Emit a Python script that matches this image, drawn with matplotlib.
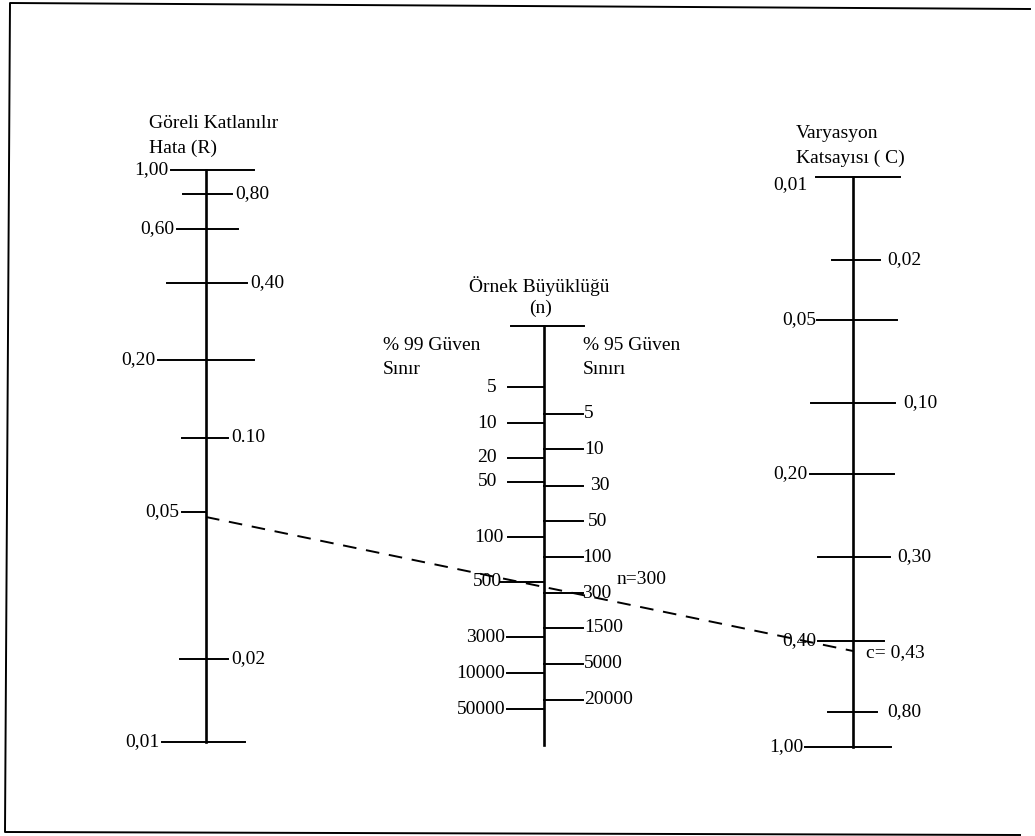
import matplotlib.pyplot as plt

############### Scale R (Göreli Katlanılır Hata)
r_labels = ['1,00', '0,80', '0,60', '0,40', '0,20', '0.10', '0,05', '0,02', '0,01']
r_pos = [170, 194, 229, 283, 360, 438, 512, 659, 742]

############### Scale n (Örnek Büyüklüğü)
n99_labels = ['5', '10', '20', '50', '100', '500', '3000', '10000', '50000']
n99_pos = [387, 423, 458, 482, 537, 582, 637, 673, 709]
n95_labels = ['5', '10', '30', '50', '100', '300', '1500', '5000', '20000']
n95_pos = [414, 449, 486, 521, 557, 593, 628, 664, 700]

############### Scale C (Varyasyon Katsayısı)
c_labels = ['0,01', '0,02', '0,05', '0,10', '0,20', '0,30', '0,40', '0,80', '1,00']
c_pos = [177, 260, 320, 403, 474, 557, 641, 712, 747]

############### Example reading: R=0,05 -> n=300 -> c=0,43
r_sel = 517
c_sel = 651

############### Layout (hand drawn, so tick extents differ)
xr, xn, xc = 206, 544, 853
r_ext = [(171, 254), (183, 232), (177, 238), (167, 247), (158, 254),
         (182, 228), (182, 205), (180, 228), (162, 245)]
c_ext = [(816, 900), (832, 880), (817, 897), (811, 895), (810, 894),
         (818, 890), (818, 884), (828, 877), (805, 891)]
n99_x = [497, 497, 497, 497, 504, 502, 505, 505, 505]
n99_start = [508, 508, 508, 508, 508, 500, 507, 507, 507]
n95_x = [584, 584, 590, 588, 582, 582, 584, 584, 584]
c_lab_x = [807, 887, 816, 903, 808, 897, 816, 887, 803]

plt.rcParams['font.family'] = ['Liberation Serif', 'DejaVu Serif']
fs = 14

fig = plt.figure(figsize=(10.35, 8.36), dpi=100)
ax = fig.add_axes([0, 0, 1, 1])
ax.set_xlim(0, 1035)
ax.set_ylim(836, 0)
ax.axis('off')

############### Frame
ax.plot([1030, 10, 5, 1020], [9, 3, 832, 835], color='black', lw=1.4)

############### R axis
ax.plot([xr, xr], [r_pos[0], r_pos[-1]], color='black', lw=1.9)
for i, (lab, y) in enumerate(zip(r_labels, r_pos)):
    x0, x1 = r_ext[i]
    ax.plot([x0, x1], [y, y], color='black', lw=1.4)
    if i % 2 == 0:
        ax.text(x0 - 3, y, lab, ha='right', va='center', fontsize=fs)
    else:
        ax.text(x1 + 3, y, lab, ha='left', va='center', fontsize=fs)
ax.text(149, 123, 'Göreli Katlanılır', ha='left', va='center', fontsize=fs)
ax.text(149, 148, 'Hata (R)', ha='left', va='center', fontsize=fs)

############### n axis
ax.plot([xn, xn], [326, 745], color='black', lw=1.9)
ax.plot([511, 584], [326, 326], color='black', lw=1.4)
for i, (lab, y) in enumerate(zip(n99_labels, n99_pos)):
    ax.plot([n99_start[i], xn], [y, y], color='black', lw=1.4)
    ax.text(n99_x[i], y, lab, ha='right', va='center', fontsize=fs)
for i, (lab, y) in enumerate(zip(n95_labels, n95_pos)):
    ax.plot([xn, 583], [y, y], color='black', lw=1.4)
    ax.text(n95_x[i], y, lab, ha='left', va='center', fontsize=fs)
ax.text(539, 286, 'Örnek Büyüklüğü', ha='center', va='center', fontsize=fs)
ax.text(541, 308, '(n)', ha='center', va='center', fontsize=fs)
ax.text(383, 345, '% 99 Güven', ha='left', va='center', fontsize=fs)
ax.text(383, 369, 'Sınır', ha='left', va='center', fontsize=fs)
ax.text(583, 345, '% 95 Güven', ha='left', va='center', fontsize=fs)
ax.text(583, 369, 'Sınırı', ha='left', va='center', fontsize=fs)

############### C axis
ax.plot([xc, xc], [c_pos[0], c_pos[-1]], color='black', lw=1.9)
for i, (lab, y) in enumerate(zip(c_labels, c_pos)):
    x0, x1 = c_ext[i]
    ax.plot([x0, x1], [y, y], color='black', lw=1.4)
    if i == 0:
        ax.text(c_lab_x[i], y + 8, lab, ha='right', va='center', fontsize=fs)
    elif i % 2 == 0:
        ax.text(c_lab_x[i], y, lab, ha='right', va='center', fontsize=fs)
    else:
        ax.text(c_lab_x[i], y, lab, ha='left', va='center', fontsize=fs)
ax.text(796, 134, 'Varyasyon', ha='left', va='center', fontsize=fs)
ax.text(796, 158, 'Katsayısı ( C)', ha='left', va='center', fontsize=fs)

############### Example line
ax.plot([xr, xc], [r_sel, c_sel], color='black', lw=1.4, ls=(0, (7, 5)))
ax.text(617, 580, 'n=300', ha='left', va='center', fontsize=fs)
ax.text(866, 653, 'c= 0,43', ha='left', va='center', fontsize=fs)

plt.savefig('out.png', dpi=100)
